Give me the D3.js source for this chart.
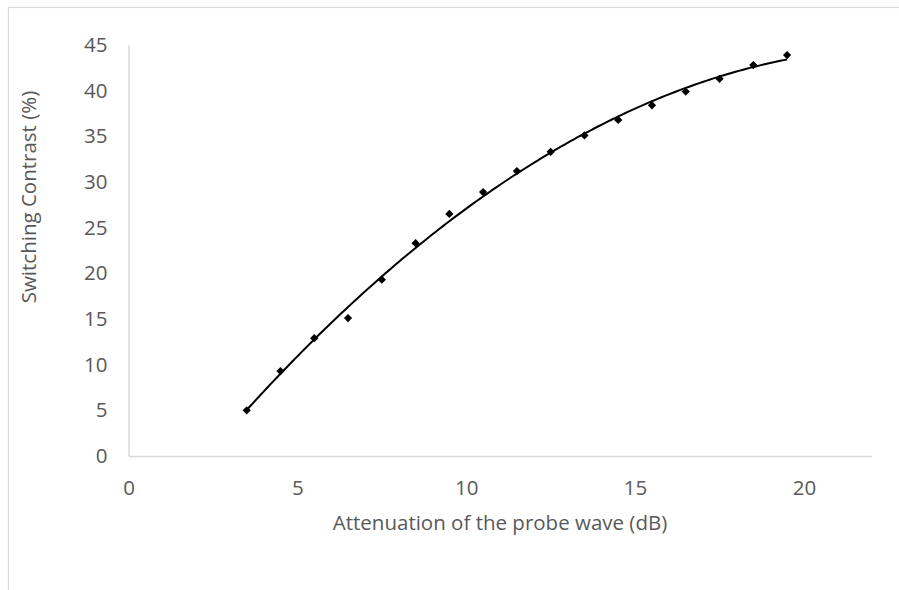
<!DOCTYPE html>
<html>
<head>
<meta charset="utf-8">
<script src="https://cdn.jsdelivr.net/npm/d3@7"></script>
<style>
  html, body { margin: 0; padding: 0; background: #fff; }
  svg { display: block; }
  text { font-family: "Open Sans", Lato, sans-serif; fill: #595959; }
</style>
</head>
<body>
<svg id="chart" width="899" height="590"></svg>
<script>
// ---- data ----
const attenuation = [3.5, 4.5, 5.5, 6.5, 7.5, 8.5, 9.5, 10.5, 11.5, 12.5, 13.5, 14.5, 15.5, 16.5, 17.5, 18.5, 19.5];
const contrast = [5.0, 9.3, 12.9, 15.1, 19.3, 23.3, 26.5, 28.9, 31.2, 33.3, 35.1, 36.8, 38.4, 39.9, 41.3, 42.8, 43.9];
const xTicks = [0, 5, 10, 15, 20];
const yTicks = [0, 5, 10, 15, 20, 25, 30, 35, 40, 45];
const xTitle = "Attenuation of the probe wave (dB)";
const yTitle = "Switching Contrast (%)";

const FONT = "'Open Sans', Lato, sans-serif";
const FS = 20.5;
const svg = d3.select("#chart");

// outer chart border (extends beyond the cropped view)
svg.append("rect")
  .attr("x", 8.5).attr("y", 7.5)
  .attr("width", 1000).attr("height", 1000)
  .attr("fill", "none").attr("stroke", "#d9d9d9").attr("stroke-width", 1.2);

const x = d3.scaleLinear().domain([0, 22]).range([128.5, 871.5]);
const y = d3.scaleLinear().domain([0, 45]).range([456, 45]);

// axes
const xAxis = svg.append("g").attr("transform", `translate(0,${y(0)})`)
  .call(d3.axisBottom(x).tickValues(xTicks).tickSize(0).tickPadding(24));
const yAxis = svg.append("g").attr("transform", `translate(${x(0)},0)`)
  .call(d3.axisLeft(y).tickValues(yTicks).tickSize(0).tickPadding(21));

[xAxis, yAxis].forEach(g => {
  g.select(".domain").attr("stroke", "#d9d9d9").attr("stroke-width", 1.5);
  g.selectAll("text").attr("font-size", FS).attr("fill", "#595959")
    .attr("font-family", FONT);
});

// axis titles
svg.append("text")
  .attr("x", 500).attr("y", 530)
  .attr("text-anchor", "middle").attr("font-size", FS)
  .text(xTitle);
svg.append("text")
  .attr("transform", "translate(36,197) rotate(-90)")
  .attr("text-anchor", "middle").attr("font-size", FS)
  .text(yTitle);

// polynomial (order 2) least-squares trendline computed from the data
function polyfit2(xs, ys) {
  let n = xs.length, sx = 0, sx2 = 0, sx3 = 0, sx4 = 0, sy = 0, sxy = 0, sx2y = 0;
  for (let i = 0; i < n; i++) {
    const a = xs[i], b = ys[i];
    sx += a; sx2 += a * a; sx3 += a ** 3; sx4 += a ** 4;
    sy += b; sxy += a * b; sx2y += a * a * b;
  }
  const M = [[n, sx, sx2, sy], [sx, sx2, sx3, sxy], [sx2, sx3, sx4, sx2y]];
  for (let i = 0; i < 3; i++) {
    for (let k = i + 1; k < 3; k++) {
      const f = M[k][i] / M[i][i];
      for (let j = i; j < 4; j++) M[k][j] -= f * M[i][j];
    }
  }
  const c = [0, 0, 0];
  for (let i = 2; i >= 0; i--) {
    let s = M[i][3];
    for (let j = i + 1; j < 3; j++) s -= M[i][j] * c[j];
    c[i] = s / M[i][i];
  }
  return c;
}
const coef = polyfit2(attenuation, contrast);
const xs = d3.range(0, 161).map(i => attenuation[0] + (attenuation[attenuation.length - 1] - attenuation[0]) * i / 160);
const fitPts = xs.map(v => [v, coef[0] + coef[1] * v + coef[2] * v * v]);

svg.append("path")
  .datum(fitPts)
  .attr("fill", "none").attr("stroke", "#000").attr("stroke-width", 2)
  .attr("d", d3.line().x(d => x(d[0])).y(d => y(d[1])));

// markers (square diamonds)
svg.append("g").selectAll("path")
  .data(attenuation.map((v, i) => [v, contrast[i]]))
  .join("path")
  .attr("transform", d => `translate(${x(d[0])},${y(d[1])}) rotate(45)`)
  .attr("d", d3.symbol(d3.symbolSquare, 34))
  .attr("fill", "#000");
</script>
</body>
</html>
